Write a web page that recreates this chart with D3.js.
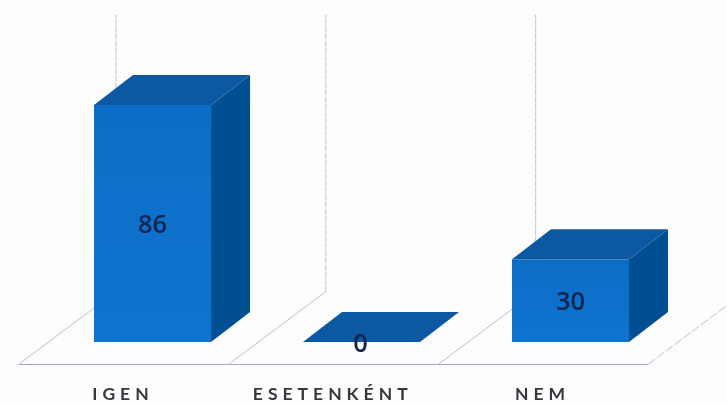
<!DOCTYPE html>
<html><head><meta charset="utf-8">
<script src="https://cdn.jsdelivr.net/npm/d3@7"></script>
<style>html,body{margin:0;padding:0;background:#fdfdfd}svg{display:block}</style></head>
<body><svg id="c" width="727" height="405"></svg>
<script>
const categories = ["IGEN", "ESETENKÉNT", "NEM"];
const values = [86, 0, 30];

const W = 727, H = 405;
const baseY = 342, topY = 105, depthX = 39, depthY = 30;
const svg = d3.select("#c").attr("viewBox", `0 0 ${W} ${H}`);
const defs = svg.append("defs");
defs.append("filter").attr("id","soft").append("feGaussianBlur").attr("stdDeviation",0.6);
const grad = defs.append("linearGradient").attr("id","front").attr("x1",0).attr("y1",0).attr("x2",0).attr("y2",1);
grad.append("stop").attr("offset",0).attr("stop-color","#0a6dc6");
grad.append("stop").attr("offset",1).attr("stop-color","#0a74d0");

const x = d3.scaleBand().domain(categories).range([94, 629]).paddingInner(0.44).paddingOuter(0);
const y = d3.scaleLinear().domain([0, 86]).range([baseY, topY]);
const floorX = d3.scaleLinear().domain([0, 3]).range([18.5, 648]);
const floorY = 364.5, wallDX = 97.5, wallDY = 73, wallTop = 15;

const g = svg.append("g").attr("filter","url(#soft)");
const gridColor = "#b4c2d6";
const idx = d3.range(4);
g.append("line").attr("x1",floorX(0)).attr("x2",floorX(3)).attr("y1",floorY).attr("y2",floorY)
  .attr("stroke","#a4abbb").attr("stroke-width",1.2);
g.selectAll(".div").data(idx).join("line").attr("class","div")
  .attr("x1",d=>floorX(d)).attr("y1",floorY)
  .attr("x2",d=>floorX(d)+wallDX).attr("y2",floorY-wallDY)
  .attr("stroke",gridColor).attr("stroke-width",1).attr("stroke-dasharray",d=>d===3?"9 2":null);
g.selectAll(".wall").data(idx.slice(0,3)).join("line").attr("class","wall")
  .attr("x1",d=>floorX(d)+wallDX).attr("x2",d=>floorX(d)+wallDX)
  .attr("y1",floorY-wallDY).attr("y2",wallTop)
  .attr("stroke",gridColor).attr("stroke-width",1).attr("stroke-dasharray","6 1");

const pts = a => a.map(p=>p.join(",")).join(" ");
const bars = g.selectAll(".bar").data(categories.map((c,i)=>({c,v:values[i]}))).join("g").attr("class","bar");
bars.filter(d=>d.v>0).append("polygon")
  .attr("points",d=>{const l=x(d.c)+x.bandwidth();return pts([[l,y(d.v)],[l+depthX,y(d.v)-depthY],[l+depthX,baseY-depthY],[l,baseY]]);})
  .attr("fill","#064f93");
bars.filter(d=>d.v>0).append("rect")
  .attr("x",d=>x(d.c)).attr("y",d=>y(d.v)).attr("width",x.bandwidth()).attr("height",d=>baseY-y(d.v))
  .attr("fill","url(#front)");
bars.append("polygon")
  .attr("points",d=>{const l=x(d.c),r=l+x.bandwidth(),t=y(d.v);return pts([[l,t],[r,t],[r+depthX,t-depthY],[l+depthX,t-depthY]]);})
  .attr("fill","#0a58a3");

bars.append("text")
  .attr("x",d=>x(d.c)+x.bandwidth()/2-(d.v===0?1:0))
  .attr("y",d=>(y(d.v)+baseY)/2+(d.v===0?10:9))
  .attr("text-anchor","middle").attr("font-family","'Open Sans',sans-serif")
  .attr("font-size",25.5).attr("font-weight",600).attr("fill","#14244f")
  .text(d=>d.v);

g.selectAll(".cat").data(categories).join("text").attr("class","cat")
  .attr("x",(d,i)=>floorX(i+0.5)-0.5).attr("y",400)
  .attr("text-anchor","middle").attr("font-family","Lato,sans-serif")
  .attr("font-size",17.5).attr("font-weight",700).attr("letter-spacing",5).attr("fill","#34383e")
  .text(d=>d);
</script></body></html>
